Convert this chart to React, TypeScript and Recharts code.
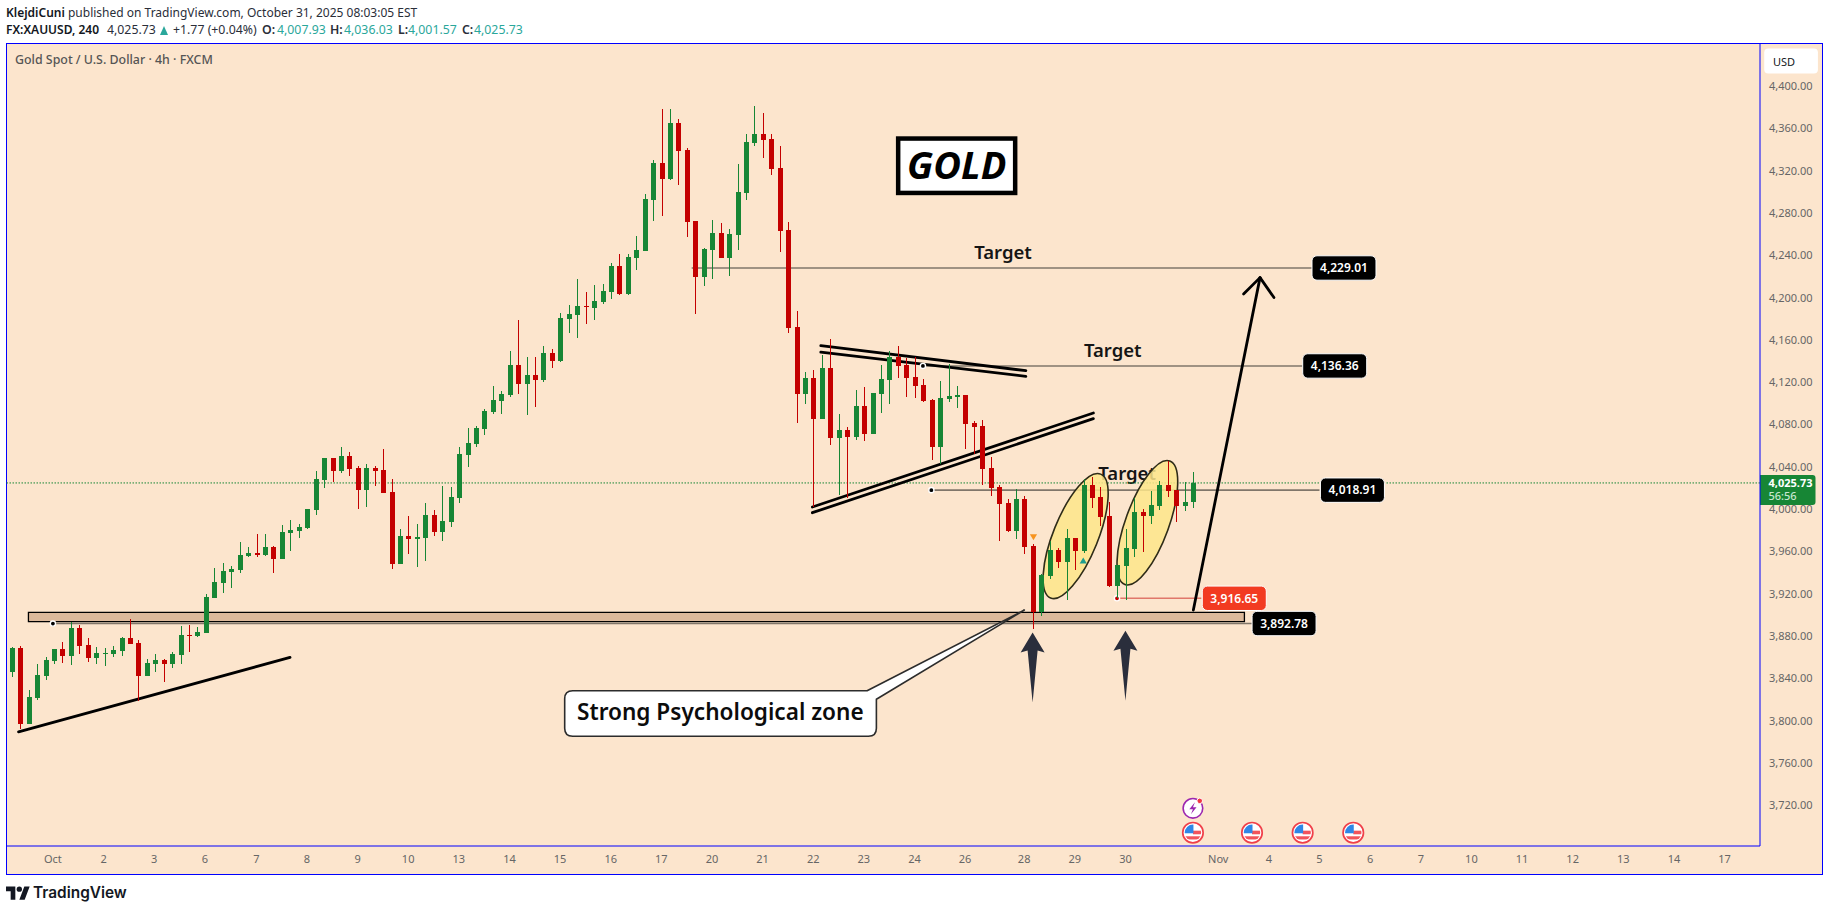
import React from "react";
import { ComposedChart, Bar, XAxis, YAxis, ReferenceLine, ReferenceArea, ReferenceDot } from "recharts";

const opens = [3847.0,3869.7,3797.8,3822.4,3843.2,3857.4,3868.7,3862.1,3888.6,3872.5,3860.2,3864.0,3864.0,3866.8,3879.1,3874.4,3843.2,3854.5,3858.3,3854.5,3863.0,3881.9,3881.0,3883.8,3916.9,3931.1,3941.5,3943.4,3956.6,3959.5,3957.6,3965.1,3953.8,3978.4,3980.3,3983.1,4000.1,4028.5,4049.3,4037.0,4051.2,4039.8,4019.0,4039.8,4037.9,4017.1,3949.1,3975.5,3972.7,3973.6,3995.4,3979.3,3988.8,4011.5,4052.1,4062.5,4076.7,4092.8,4103.2,4108.9,4137.2,4119.3,4127.8,4123.1,4148.6,4141.0,4180.8,4184.6,4193.1,4191.2,4196.9,4206.3,4230.9,4204.4,4238.4,4245.1,4293.3,4328.3,4313.1,4366.1,4340.6,4273.4,4220.5,4246.0,4262.1,4238.4,4260.1,4299.9,4347.2,4355.7,4351.0,4323.5,4264.9,4173.2,4109.8,4125.0,4086.2,4134.4,4068.2,4075.8,4069.2,4098.5,4072.0,4109.8,4123.1,4144.8,4137.2,4125.9,4118.3,4104.1,4059.7,4105.1,4107.0,4108.9,4082.4,4079.6,4039.8,4021.9,4006.8,3980.3,4010.5,3966.1,3903.7,3937.7,3962.3,3951.0,3973.7,3961.4,4023.8,4012.4,3994.5,3928.3,3947.2,3963.3,3998.3,3994.5,4003.9,4023.8,4019.1,4003.9,4007.93];
const highs = [3870.9,3871.5,3829.9,3854.5,3861.1,3868.7,3875.3,3894.6,3891.4,3879.1,3870.6,3869.7,3871.5,3880.1,3897.1,3877.2,3859.3,3864.0,3859.3,3865.9,3890.5,3891.4,3889.5,3920.7,3945.3,3950.0,3947.1,3969.9,3965.1,3977.4,3977.4,3966.1,3985.9,3990.7,3986.9,4001.0,4037.0,4049.3,4049.3,4059.7,4055.0,4041.7,4043.6,4041.7,4057.8,4029.4,3982.1,3994.5,3986.9,4006.7,4000.1,4022.8,4021.9,4059.7,4077.7,4079.6,4095.6,4117.4,4112.6,4150.5,4179.8,4144.8,4144.8,4155.2,4152.4,4186.4,4194.1,4218.6,4206.3,4212.9,4213.9,4233.8,4242.3,4242.3,4259.2,4299.0,4331.1,4379.3,4379.3,4369.9,4342.5,4273.4,4247.9,4274.4,4271.5,4265.9,4327.3,4355.7,4382.1,4375.6,4355.7,4344.3,4272.5,4188.3,4130.6,4132.5,4146.7,4161.8,4090.9,4078.6,4113.6,4116.4,4110.8,4137.2,4150.5,4155.2,4143.9,4144.8,4124.0,4105.1,4122.1,4138.2,4117.4,4108.9,4084.3,4085.2,4050.3,4023.8,4010.5,4020.0,4013.4,3968.0,3939.6,3970.8,3964.2,3982.2,3973.7,4029.1,4031.4,4021.9,4007.7,3948.2,3982.2,4011.5,4001.1,4018.1,4027.6,4046.5,4019.1,4026.6,4036.03];
const lows = [3842.2,3793.1,3797.8,3820.5,3839.4,3854.5,3855.5,3853.6,3864.0,3856.4,3854.5,3852.6,3861.1,3862.1,3873.4,3819.5,3843.2,3847.0,3837.5,3850.7,3854.5,3865.9,3880.1,3883.8,3916.9,3921.6,3926.4,3940.5,3955.7,3955.7,3956.6,3940.5,3953.8,3961.4,3973.6,3982.1,3995.4,4020.9,4026.6,4035.1,4032.3,4001.0,4003.0,4022.8,4016.2,3944.3,3949.1,3958.5,3946.2,3951.9,3975.5,3970.8,3984.1,4006.7,4040.8,4059.7,4071.1,4090.9,4090.9,4107.0,4109.8,4090.0,4097.5,4121.2,4134.4,4140.1,4167.5,4162.8,4176.0,4179.8,4194.9,4199.7,4203.5,4203.5,4227.1,4245.1,4273.4,4278.1,4312.2,4307.5,4258.3,4185.5,4212.0,4218.6,4238.4,4221.4,4246.0,4293.3,4344.3,4333.0,4316.9,4244.1,4167.5,4082.4,4100.4,4003.0,4086.2,4061.6,4014.3,4011.5,4066.3,4065.4,4072.0,4091.9,4100.4,4125.0,4107.0,4106.0,4102.3,4047.4,4043.6,4102.3,4096.6,4057.8,4053.1,4023.8,4013.4,3970.8,3979.3,3972.7,3958.5,3887.6,3899.9,3934.9,3945.3,3915.0,3943.4,3959.5,4002.0,3985.0,3927.3,3916.65,3915.0,3955.7,3960.4,3986.9,4000.1,4012.4,3988.8,3999.2,4001.57];
const closes = [3869.7,3797.8,3823.3,3844.1,3858.3,3868.7,3862.1,3888.6,3871.5,3860.2,3864.9,3864.9,3867.8,3879.1,3873.4,3843.2,3855.5,3858.3,3854.5,3864.0,3881.9,3881.0,3884.8,3917.9,3932.0,3942.4,3944.3,3957.6,3959.5,3957.6,3965.1,3953.8,3979.3,3981.2,3984.1,4001.0,4029.4,4049.3,4037.0,4051.2,4038.9,4019.0,4039.8,4037.0,4016.2,3949.1,3975.5,3972.7,3974.6,3995.4,3979.3,3989.7,4012.4,4053.1,4063.5,4077.7,4093.7,4104.1,4109.8,4137.2,4119.3,4127.8,4123.1,4148.6,4141.0,4181.7,4185.5,4193.1,4192.1,4197.8,4207.3,4230.9,4204.4,4239.4,4246.0,4294.2,4328.3,4313.1,4366.1,4339.6,4272.5,4220.5,4246.9,4262.1,4238.4,4261.1,4300.8,4348.1,4355.7,4350.1,4322.6,4264.0,4172.2,4109.8,4125.0,4086.2,4134.4,4068.2,4075.8,4069.2,4098.5,4072.0,4110.8,4124.0,4144.8,4136.3,4125.0,4117.4,4103.2,4059.7,4106.0,4107.9,4108.9,4081.5,4078.6,4038.9,4020.9,4005.8,3980.3,4010.5,3965.1,3903.6,3938.7,3962.3,3951.0,3973.7,3961.4,4023.8,4011.5,3993.5,3928.3,3948.2,3964.2,3998.3,3994.5,4004.9,4023.8,4018.1,4003.9,4007.7,4025.73];

const priceTicks = [4400,4360,4320,4280,4240,4200,4160,4120,4080,4040,4000,3960,3920,3880,3840,3800,3760,3720];
const dayTickIndex = [4.9,10.9,16.9,22.9,29,35,41,47,53,59,65,71,77,83,89,95,101,107,113,120,126,132,143,149,155,161,167,173,179,185,191,197,203];
const dayTickLabels = ["Oct","2","3","6","7","8","9","10","13","14","15","16","17","20","21","22","23","24","26","28","29","30","Nov","4","5","6","7","10","11","12","13","14","17"];

const currentPrice = 4025.73;
const priceLines = [
  { from: 80.6, to: 154.1, price: 4229.01, labelAt: 157.9, label: "4,229.01" },
  { from: 108, to: 153, price: 4136.36, labelAt: 156.8, label: "4,136.36" },
  { from: 109, to: 155, price: 4018.91, labelAt: 158.9, label: "4,018.91" },
  { from: 4.9, to: 147, price: 3892.78, labelAt: 150.8, label: "3,892.78" },
];
const stopLine = { from: 131, to: 141, price: 3916.65, labelAt: 144.9, label: "3,916.65" };
const zone = { from: 2, to: 146.1, top: 3903.4, bottom: 3894.5 };
const trendSegments = [
  [0.83, 3790.4, 33, 3860.8],
  [95.9, 4155.5, 120.2, 4131.9],
  [95.9, 4149.5, 120.2, 4126.6],
  [94.9, 4003, 128.2, 4091.9],
  [94.9, 3997.6, 128.2, 4086.5],
  [140.05, 3905.5, 147.95, 4219.9],
  [146, 4204.4, 147.95, 4219.9],
  [149.6, 4201.1, 147.95, 4219.9],
];
const ellipses = [
  { at: 126.1, price: 3975.5, rx: 22.4, ry: 66.8, tilt: 22 },
  { at: 134.6, price: 3988.1, rx: 21.7, ry: 65.7, tilt: 20 },
];
const targets = [[117.5, 4244.1], [130.5, 4151.4], [132.2, 4034.2]];
const upArrows = [[121, 3884.3], [132, 3886]];
const flagAt = [140, 147, 153, 159];
const flagPrice = 3695;
const boltAt = [140, 3718];

const BG = "#fce5cd";
const BLUE = "#0000ff";
const GREEN = "#178635";
const RED = "#c40000";
const LINE = "#80766a";
const UI = "'Noto Sans', sans-serif";
const DRAW = "'Noto Sans', 'DejaVu Sans', sans-serif";
const MONEY = (v: number) => v.toLocaleString("en-US", { minimumFractionDigits: 2, maximumFractionDigits: 2 });

const rows = opens.map((open, i) => ({ i, open, high: highs[i], low: lows[i], close: closes[i] }));

function Candle(props: any) {
  const { x, y, width, height, payload } = props;
  const { open, close, high, low } = payload;
  const at = (v: number) => y + ((high - v) / (high - low)) * height;
  const color = close >= open ? GREEN : RED;
  const top = at(Math.max(open, close));
  const bottom = at(Math.min(open, close));
  const mid = Math.round(x + width / 2);
  return (
    <g shapeRendering="crispEdges">
      <rect x={mid - 0.5} y={y} width={1} height={height} fill={color} />
      <rect x={mid - 2.5} y={top} width={5} height={Math.max(bottom - top, 1)} fill={color} />
    </g>
  );
}

const priceTag = (text: string, fill: string) => (p: any) => (
  <g>
    <rect x={p.cx - 32} y={p.cy - 12.2} width={64} height={24.4} rx={5} fill={fill} stroke="#fff" strokeWidth={1} />
    <text x={p.cx} y={p.cy + 4.3} textAnchor="middle" fontFamily={UI} fontSize={12} fontWeight={600} fill="#fff">{text}</text>
  </g>
);
const ringDot = (fill: string) => (p: any) => (
  <circle cx={p.cx} cy={p.cy} r={2.6} fill={fill} stroke="#fff" strokeWidth={1.4} />
);
const tiltEllipse = (rx: number, ry: number, tilt: number) => (p: any) => (
  <ellipse cx={p.cx} cy={p.cy} rx={rx} ry={ry} transform={`rotate(${tilt} ${p.cx} ${p.cy})`} fill="#fde68a" fillOpacity={0.85} stroke="#2f2c18" strokeWidth={1.6} />
);
const targetText = (p: any) => (
  <text x={p.cx} y={p.cy + 6.5} textAnchor="middle" fontFamily={DRAW} fontSize={18.5} fontWeight={600} fill="#151515">Target</text>
);
const goldBox = (p: any) => (
  <g>
    <rect x={p.cx - 58.5} y={p.cy - 27.2} width={117} height={54.4} fill="#fff" stroke="#000" strokeWidth={4.5} />
    <text x={p.cx} y={p.cy + 13.5} textAnchor="middle" fontFamily={DRAW} fontSize={38} fontWeight={700} fontStyle="italic" fill="#000">GOLD</text>
  </g>
);
const callout = (p: any) => {
  const { cx, cy } = p;
  const L = cx - 155.7, R = cx + 156, T = cy - 22.8, B = cy + 22.8, r = 8;
  const d = `M${L + r} ${T} L${cx + 146.7} ${T} L${cx + 304} ${cy - 103.5} L${R} ${cy - 14.2} L${R} ${B - r} Q${R} ${B} ${R - r} ${B} L${L + r} ${B} Q${L} ${B} ${L} ${B - r} L${L} ${T + r} Q${L} ${T} ${L + r} ${T} Z`;
  return (
    <g>
      <path d={d} fill="#fff" stroke="#2c2c2c" strokeWidth={1.6} strokeLinejoin="round" />
      <text x={cx} y={cy + 6} textAnchor="middle" fontFamily={DRAW} fontSize={22.6} fontWeight={600} fill="#0c0c0c">Strong Psychological zone</text>
    </g>
  );
};
const upArrow = (p: any) => {
  const { cx, cy } = p;
  return <path d={`M${cx} ${cy} L${cx + 12} ${cy + 20} L${cx + 5} ${cy + 18} L${cx} ${cy + 70} L${cx - 5} ${cy + 18} L${cx - 12} ${cy + 20} Z`} fill="#2a2e3c" />;
};
const marker = (fill: string, up: boolean) => (p: any) => {
  const { cx, cy } = p;
  return <path d={up ? `M${cx} ${cy - 3.5} L${cx + 3.6} ${cy + 2.5} L${cx - 3.6} ${cy + 2.5} Z` : `M${cx} ${cy + 3.5} L${cx + 3.6} ${cy - 2.5} L${cx - 3.6} ${cy - 2.5} Z`} fill={fill} />;
};
const flag = (p: any) => {
  const { cx, cy } = p;
  return (
    <g>
      <circle cx={cx} cy={cy} r={10.2} fill="#fff" stroke="#f0404a" strokeWidth={1.7} />
      <clipPath id={`f${Math.round(cx)}`}><circle cx={cx} cy={cy} r={8.2} /></clipPath>
      <g clipPath={`url(#f${Math.round(cx)})`}>
        <rect x={cx} y={cy - 2} width={9} height={3.6} fill="#f2545b" />
        <rect x={cx - 9} y={cy + 3.6} width={18} height={3.2} fill="#f2545b" />
        <rect x={cx - 9} y={cy - 9} width={9.5} height={9.6} fill="#2f86e6" />
      </g>
    </g>
  );
};
const bolt = (p: any) => {
  const { cx, cy } = p;
  return (
    <g>
      <circle cx={cx} cy={cy} r={9.8} fill="#fff" stroke="#9c27b0" strokeWidth={1.6} />
      <path d={`M${cx + 2} ${cy - 6} L${cx - 3.6} ${cy + 1} L${cx} ${cy + 1} L${cx - 2} ${cy + 6} L${cx + 3.6} ${cy - 1} L${cx} ${cy - 1} Z`} fill="#9c27b0" />
      <circle cx={cx + 6.8} cy={cy - 7.5} r={2.8} fill="#f23645" stroke="#fff" strokeWidth={1} />
    </g>
  );
};
const currentTag = (p: any) => (
  <g>
    <path d={`M${p.cx} ${p.cy - 8} h52.5 a3 3 0 0 1 3 3 v24 a3 3 0 0 1 -3 3 h-52.5 Z`} fill={GREEN} />
    <text x={p.cx + 8.5} y={p.cy + 4} fontFamily={UI} fontSize={11} fontWeight={700} fill="#fff">4,025.73</text>
    <text x={p.cx + 8.5} y={p.cy + 17} fontFamily={UI} fontSize={11} fontWeight={500} fill="#c6e6cf">56:56</text>
  </g>
);
const usdBox = (p: any) => (
  <g>
    <rect x={p.cx} y={p.cy} width={53.7} height={25} rx={4} fill="#fff" />
    <text x={p.cx + 8.7} y={p.cy + 17} fontFamily={UI} fontSize={11} fill="#131722">USD</text>
  </g>
);

const Teal = ({ children }: any) => <span style={{ color: "#2aa79b" }}>{children}</span>;
const Abs = ({ x, y, children, style }: any) => (
  <span style={{ position: "absolute", left: x, top: y, whiteSpace: "nowrap", lineHeight: "16px", ...style }}>{children}</span>
);

export default function App() {
  return (
    <div style={{ position: "absolute", left: 0, top: 0, width: 1829, height: 911, background: "#fff", overflow: "hidden", fontFamily: UI, fontSize: 12.3, color: "#2a2e39" }}>
      <Abs x={6} y={5} style={{ fontSize: 12 }}><b style={{ fontWeight: 600, color: "#131722" }}>KlejdiCuni</b> published on TradingView.com, October 31, 2025 08:03:05 EST</Abs>
      <Abs x={6} y={22} style={{ fontSize: 12 }}><b style={{ fontWeight: 600, color: "#131722" }}>FX:XAUUSD, 240</b></Abs>
      <Abs x={107} y={22}>4,025.73</Abs>
      <span style={{ position: "absolute", left: 160, top: 26, width: 0, height: 0, borderLeft: "4.5px solid transparent", borderRight: "4.5px solid transparent", borderBottom: "9px solid #2aa79b" }} />
      <Abs x={173} y={22}>+1.77 (+0.04%)</Abs>
      <Abs x={262} y={22}><b style={{ fontWeight: 600 }}>O:</b></Abs><Abs x={277} y={22}><Teal>4,007.93</Teal></Abs>
      <Abs x={330} y={22}><b style={{ fontWeight: 600 }}>H:</b></Abs><Abs x={344} y={22}><Teal>4,036.03</Teal></Abs>
      <Abs x={398} y={22}><b style={{ fontWeight: 600 }}>L:</b></Abs><Abs x={408} y={22}><Teal>4,001.57</Teal></Abs>
      <Abs x={462} y={22}><b style={{ fontWeight: 600 }}>C:</b></Abs><Abs x={474} y={22}><Teal>4,025.73</Teal></Abs>

      <div style={{ position: "absolute", left: 6, top: 43, width: 1815, height: 830, background: BG, border: `1px solid ${BLUE}` }} />

      <div style={{ position: "absolute", left: 0, top: 0 }}>
        <ComposedChart width={1829} height={911} data={rows} margin={{ top: 43.5, right: 7, bottom: 37, left: 6.5 }} barSize={5}>
          <XAxis dataKey="i" type="number" domain={[-0.6, 207.2]} ticks={dayTickIndex} interval={0} allowDataOverflow
            tickFormatter={(v: number) => dayTickLabels[dayTickIndex.indexOf(v)]}
            height={28} tickSize={0} tickMargin={9.5} axisLine={{ stroke: BLUE, strokeWidth: 1 }} tickLine={false}
            tick={{ fill: "#666", fontSize: 11, fontFamily: UI }} />
          <YAxis type="number" orientation="right" domain={[3682.4, 4441.3]} ticks={priceTicks} interval={0} allowDataOverflow
            tickFormatter={MONEY} width={62} tickSize={0} tickMargin={9} axisLine={{ stroke: BLUE, strokeWidth: 1 }} tickLine={false}
            tick={{ fill: "#666", fontSize: 11, fontFamily: UI, dy: -1 }} />

          <ReferenceArea x1={zone.from} x2={zone.to} y1={zone.bottom} y2={zone.top} fill="#dcb99b" fillOpacity={1} stroke="#000" strokeWidth={1.3} zIndex={100} />
          {targets.map(([x, y], k) => <ReferenceDot key={`t${k}`} x={x} y={y} shape={targetText} zIndex={110} />)}
          {priceLines.map((l) => <ReferenceLine key={l.label} segment={[{ x: l.from, y: l.price }, { x: l.to, y: l.price }]} stroke={LINE} strokeWidth={1.6} zIndex={120} />)}
          <ReferenceLine segment={[{ x: stopLine.from, y: stopLine.price }, { x: stopLine.to, y: stopLine.price }]} stroke="#e0776a" strokeWidth={1.6} zIndex={120} />
          <ReferenceLine y={currentPrice} stroke={GREEN} strokeWidth={1} strokeDasharray="1.5 1.5" zIndex={125} />
          {ellipses.map((e, k) => <ReferenceDot key={`e${k}`} x={e.at} y={e.price} shape={tiltEllipse(e.rx, e.ry, e.tilt)} zIndex={130} />)}
          {trendSegments.map((s, k) => <ReferenceLine key={`s${k}`} segment={[{ x: s[0], y: s[1] }, { x: s[2], y: s[3] }]} stroke="#000" strokeWidth={2.8} strokeLinecap="round" zIndex={140} />)}
          <ReferenceDot x={108} y={4136.36} shape={ringDot("#000")} zIndex={150} />
          <ReferenceDot x={109} y={4018.91} shape={ringDot("#000")} zIndex={150} />
          <ReferenceDot x={4.9} y={3892.78} shape={ringDot("#000")} zIndex={150} />
          <ReferenceDot x={stopLine.from} y={stopLine.price} shape={ringDot("#c40000")} zIndex={150} />
          {upArrows.map(([x, y], k) => <ReferenceDot key={`a${k}`} x={x} y={y} shape={upArrow} zIndex={150} />)}
          <ReferenceDot x={84} y={3807.7} shape={callout} zIndex={160} />
          <ReferenceDot x={112} y={4325.7} shape={goldBox} zIndex={160} />

          <Bar dataKey={(d: any) => [d.low, d.high]} shape={Candle} isAnimationActive={false} zIndex={300} />

          <ReferenceDot x={121.1} y={3974.9} shape={marker("#f7931e", false)} zIndex={400} />
          <ReferenceDot x={127} y={3951.9} shape={marker("#1f9e8f", true)} zIndex={400} />
          {priceLines.map((l) => <ReferenceDot key={`p${l.label}`} x={l.labelAt} y={l.price} shape={priceTag(l.label, "#000")} zIndex={410} />)}
          <ReferenceDot x={stopLine.labelAt} y={stopLine.price} shape={priceTag(stopLine.label, "#f23b21")} zIndex={410} />
          {flagAt.map((x) => <ReferenceDot key={`fl${x}`} x={x} y={flagPrice} shape={flag} zIndex={410} />)}
          <ReferenceDot x={boltAt[0]} y={boltAt[1]} shape={bolt} zIndex={410} />
          <ReferenceDot x={207.2} y={currentPrice} shape={currentTag} ifOverflow="visible" zIndex={420} />
          <ReferenceDot x={207.7} y={4436.5} shape={usdBox} ifOverflow="visible" zIndex={420} />
        </ComposedChart>
      </div>

      <Abs x={15} y={52} style={{ color: "#555", fontWeight: 500, fontSize: 12.4 }}>Gold Spot / U.S. Dollar · 4h · FXCM</Abs>

      <svg style={{ position: "absolute", left: 6, top: 885 }} width={24} height={15} viewBox="0 0 36 22">
        <path d="M14 22H7V9H0V2h14v20zM28 22h-8L27.5 2h8L28 22z" fill="#131722" />
        <circle cx="20" cy="6" r="4" fill="#131722" />
      </svg>
      <Abs x={33} y={885} style={{ fontSize: 15.4, fontWeight: 600, color: "#131722", fontFamily: "Inter, sans-serif" }}>TradingView</Abs>
    </div>
  );
}
